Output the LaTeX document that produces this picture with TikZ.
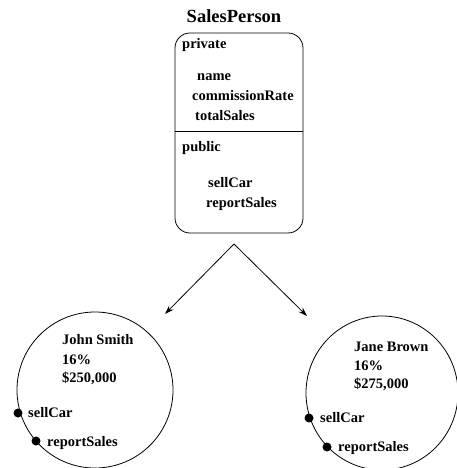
\documentclass[tikz,border=0pt]{standalone}
\usepackage{fontspec}
\setmainfont{Liberation Serif}
\usetikzlibrary{arrows.meta}
\begin{document}
\begin{tikzpicture}[x=1pt,y=-1pt,
  txt/.style={anchor=base west,inner sep=0pt,font=\fontsize{14.5}{16}\selectfont\bfseries},
  ttl/.style={anchor=base,inner sep=0pt,font=\fontsize{18.5}{20}\selectfont\bfseries},
  obj/.style={draw,line width=0.8pt},
  port/.style={circle,fill=black,inner sep=0pt,minimum size=9pt},
  link/.style={line width=0.8pt,-{Stealth[length=9pt,width=6pt]}}]
\useasboundingbox (0,0) rectangle (457,468);
\begin{scope}
\clip (0,0) rectangle (457,468);
% class box
\node[ttl] (title) at (234,23) {SalesPerson};
\draw[obj,rounded corners=15pt] (175,33) rectangle (303,233);
\coordinate (boxbot) at (234,244);
\draw[obj] (175,131) -- (303,131);
\node[txt] (priv) at (182,49) {private};
\node[txt] (a1) at (197,81) {name};
\node[txt] (a2) at (192,101) {commissionRate};
\node[txt] (a3) at (195,121) {totalSales};
\node[txt] (pub) at (182,151) {public};
\node[txt] (m1) at (208,187) {sellCar};
\node[txt] (m2) at (206,207) {reportSales};
% objects
\coordinate (c1) at (95,390);
\coordinate (c2) at (382,393);
\draw[obj] (c1) circle[radius=78];
\draw[obj] (c2) ellipse[x radius=76,y radius=77];
\coordinate (t1) at (165,314);
\coordinate (t2) at (307,316);
\draw[link] (boxbot) -- (t1);
\draw[link] (boxbot) -- (t2);
% John Smith
\node[txt] (j1) at (62,344) {John Smith};
\node[txt] (j2) at (62,364) {16\%};
\node[txt] (j3) at (62,382) {\$250,000};
\node[port] (jp1) at (18,413) {};
\node[port] (jp2) at (36,441) {};
\node[txt] (jl1) at (28,417) {sellCar};
\node[txt] (jl2) at (47,446) {reportSales};
% Jane Brown
\node[txt] (b1) at (354,351) {Jane Brown};
\node[txt] (b2) at (354,370) {16\%};
\node[txt] (b3) at (354,388) {\$275,000};
\node[port] (bp1) at (309,418) {};
\node[port] (bp2) at (327,447) {};
\node[txt] (bl1) at (320,422) {sellCar};
\node[txt] (bl2) at (338,451) {reportSales};
\end{scope}
\end{tikzpicture}
\end{document}
